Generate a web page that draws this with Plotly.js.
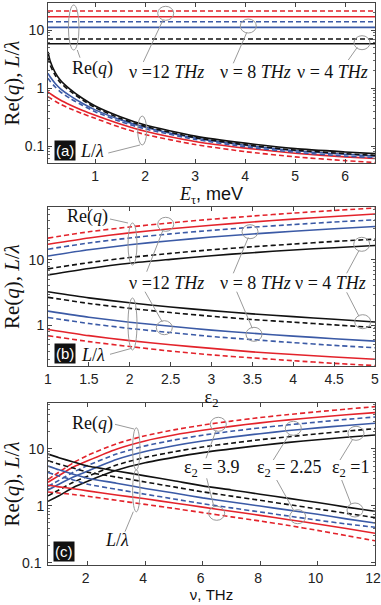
<!DOCTYPE html>
<html>
<head>
<meta charset="utf-8">
<script src="https://cdn.plot.ly/plotly-3.0.1.min.js"></script>
<style>
  body { margin: 0; background: #fff; }
  #chart { width: 381px; height: 605px; }
</style>
</head>
<body>
<div id="chart"></div>
<script>
// ---- panel (a): versus E_tau, meV (eps2 = 1) ----
var eTau = [0.055, 0.1, 0.2, 0.3, 0.5, 0.75, 1, 1.5, 2, 3, 4, 5, 6, 6.6];
var eTauEnds = [0.055, 6.6];
// Re(q) is flat in E_tau: [solid, dashed]
var reqA_nu4 = [5.8, 7.0];
var reqA_nu8 = [11.1, 13.9];
var reqA_nu12 = [16.9, 21.3];
var lamA_nu4_solid = [4.2, 2.9, 1.85, 1.38, 0.95, 0.66, 0.49, 0.32, 0.23, 0.148, 0.112, 0.09, 0.079, 0.074];
var lamA_nu4_dash = [3.3, 2.45, 1.65, 1.25, 0.88, 0.62, 0.46, 0.3, 0.218, 0.14, 0.105, 0.085, 0.074, 0.069];
var lamA_nu8_solid = [1.79, 1.55, 1.2, 0.98, 0.73, 0.54, 0.42, 0.285, 0.21, 0.137, 0.103, 0.083, 0.072, 0.067];
var lamA_nu8_dash = [1.47, 1.3, 1.04, 0.86, 0.66, 0.5, 0.39, 0.265, 0.197, 0.13, 0.097, 0.078, 0.067, 0.063];
var lamA_nu12_solid = [0.86, 0.8, 0.7, 0.62, 0.51, 0.41, 0.34, 0.24, 0.18, 0.12, 0.092, 0.075, 0.065, 0.061];
var lamA_nu12_dash = [0.71, 0.67, 0.59, 0.53, 0.44, 0.36, 0.3, 0.21, 0.158, 0.106, 0.08, 0.065, 0.056, 0.052];

// ---- panel (b): versus eps2 ----
var eps2 = [1, 1.5, 2, 2.5, 3, 3.5, 4, 4.5, 5];
var reqB_nu4_solid = [5.9, 7.4, 8.9, 10.2, 11.6, 12.9, 14.2, 15.4, 16.6];
var reqB_nu4_dash = [7.3, 9.1, 10.9, 12.6, 14.3, 15.9, 17.5, 19.2, 20.8];
var reqB_nu8_solid = [11.5, 14.3, 17.1, 19.7, 22.4, 25.0, 27.5, 30.1, 32.6];
var reqB_nu8_dash = [14.6, 18.2, 21.7, 25.1, 28.4, 31.7, 34.9, 38.1, 41.2];
var reqB_nu12_solid = [17.4, 21.7, 26.0, 30.0, 34.0, 38.1, 42.2, 46.4, 50.5];
var reqB_nu12_dash = [21.6, 27.0, 32.0, 37.0, 42.0, 47.0, 52.2, 57.3, 62.4];
var lamB_nu4_solid = [3.25, 2.62, 2.2, 1.9, 1.67, 1.49, 1.35, 1.23, 1.12];
var lamB_nu4_dash = [2.67, 2.15, 1.81, 1.56, 1.37, 1.22, 1.11, 1.01, 0.92];
var lamB_nu8_solid = [1.64, 1.32, 1.11, 0.96, 0.84, 0.75, 0.68, 0.62, 0.57];
var lamB_nu8_dash = [1.31, 1.06, 0.89, 0.77, 0.67, 0.6, 0.54, 0.49, 0.45];
var lamB_nu12_solid = [0.86, 0.69, 0.58, 0.5, 0.44, 0.39, 0.355, 0.325, 0.3];
var lamB_nu12_dash = [0.69, 0.56, 0.47, 0.4, 0.35, 0.315, 0.285, 0.26, 0.24];

// ---- panel (c): versus nu, THz ----
var nu = [0.62, 1, 1.5, 2, 3, 4, 5, 6, 7, 8, 9, 10, 11, 12];
var reqC_e1_solid = [1.2, 1.5, 2.1, 2.7, 4.2, 5.7, 7.1, 8.6, 10.0, 11.5, 13.0, 14.5, 16.0, 17.6];
var reqC_e1_dash = [1.5, 1.9, 2.6, 3.3, 5.2, 7.1, 8.9, 10.8, 12.6, 14.5, 16.4, 18.4, 20.5, 22.7];
var reqC_e225_solid = [1.9, 2.4, 3.2, 4.1, 6.5, 9.0, 11.4, 13.8, 16.1, 18.5, 21.0, 23.4, 25.8, 28.2];
var reqC_e225_dash = [2.2, 2.8, 3.9, 5.1, 8.1, 11.3, 14.3, 17.4, 20.4, 23.4, 26.5, 29.6, 33.0, 36.4];
var reqC_e39_solid = [2.6, 3.4, 4.8, 6.2, 9.9, 13.8, 17.5, 21.2, 24.9, 28.7, 32.4, 36.0, 39.7, 43.4];
var reqC_e39_dash = [2.9, 3.9, 5.7, 7.7, 12.3, 17.0, 21.6, 26.2, 30.8, 35.5, 40.2, 45.0, 50.0, 55.3];
var lamC_e1_solid = [8.1, 7.0, 5.9, 5.0, 4.1, 3.36, 2.75, 2.24, 1.9, 1.6, 1.35, 1.14, 0.95, 0.8];
var lamC_e1_dash = [6.2, 5.4, 4.6, 3.9, 3.2, 2.62, 2.15, 1.76, 1.48, 1.25, 1.05, 0.88, 0.74, 0.62];
var lamC_e225_solid = [5.0, 4.3, 3.6, 3.05, 2.5, 2.02, 1.68, 1.38, 1.17, 0.99, 0.84, 0.71, 0.59, 0.5];
var lamC_e225_dash = [3.85, 3.35, 2.85, 2.4, 1.95, 1.6, 1.32, 1.09, 0.92, 0.78, 0.66, 0.56, 0.48, 0.42];
var lamC_e39_solid = [2.3, 2.15, 2.0, 1.83, 1.55, 1.33, 1.12, 0.95, 0.8, 0.68, 0.57, 0.48, 0.4, 0.33];
var lamC_e39_dash = [1.75, 1.68, 1.58, 1.47, 1.25, 1.06, 0.9, 0.76, 0.64, 0.54, 0.45, 0.37, 0.3, 0.243];

var yTickVals = [0.1, 1, 10];
var yTickText = ["0.1", "1", "10"];
var yTickTextC = ["", "1", "10"];   // "0.1" of panel (c) is drawn as an annotation
var minorA = [0.06, 0.07, 0.08, 0.09, 0.2, 0.3, 0.4, 0.5, 0.6, 0.7, 0.8, 0.9, 2, 3, 4, 5, 6, 7, 8, 9, 20];
var minorB = [0.3, 0.4, 0.5, 0.6, 0.7, 0.8, 0.9, 2, 3, 4, 5, 6, 7, 8, 9, 20, 30, 40, 50, 60];
var minorC = [0.2, 0.3, 0.4, 0.5, 0.6, 0.7, 0.8, 0.9, 2, 3, 4, 5, 6, 7, 8, 9, 20, 30, 40, 50, 60];

var RED = "#e3232b", BLUE = "#3b5aa6", BLACK = "#111111";
var SERIF = "Liberation Serif", SANS = "Liberation Sans";

// pixel -> paper (plot area is x 48..375, y 3..565)
function px(x) { return (x - 48) / 327; }
function py(y) { return (565 - y) / 562; }

function addLine(data, xs, ys, n, color, dashed) {
    data.push({
        x: xs, y: ys,
        xaxis: n === 1 ? "x" : "x" + n,
        yaxis: n === 1 ? "y" : "y" + n,
        mode: "lines",
        line: { color: color, width: 1.6, dash: dashed ? "5px,3px" : "solid", shape: "spline", smoothing: 0.6 },
        hoverinfo: "skip",
        showlegend: false
    });
}

function ring(cx, cy, rx, ry) {
    return { type: "circle", xref: "paper", yref: "paper",
             x0: px(cx - rx), x1: px(cx + rx), y0: py(cy + ry), y1: py(cy - ry),
             line: { color: "#9a9a9a", width: 1 } };
}
function seg(x1, y1, x2, y2) {
    return { type: "line", xref: "paper", yref: "paper",
             x0: px(x1), y0: py(y1), x1: px(x2), y1: py(y2),
             line: { color: "#9a9a9a", width: 1 } };
}
function label(text, x, y, anchor) {
    return { text: text, xref: "paper", yref: "paper", x: px(x), y: py(y),
             xanchor: anchor || "left", yanchor: "middle", showarrow: false,
             font: { family: SERIF, size: 18, color: "#111" } };
}
function tag(text, x, y) {
    return { text: text, xref: "paper", yref: "paper", x: px(x), y: py(y),
             xanchor: "center", yanchor: "middle", showarrow: false,
             bgcolor: "#111", borderpad: 1,
             font: { family: SANS, size: 15, color: "#fff" } };
}

function xAxis(anchor, range, extra) {
    var ax = {
        anchor: anchor, domain: [0, 1], range: range,
        ticks: "inside", ticklen: 4, tickcolor: "#444", mirror: "ticks",
        showline: true, linecolor: "#444", linewidth: 1,
        showgrid: false, zeroline: false, ticklabeloverflow: "allow",
        tickfont: { family: SANS, size: 14, color: "#222" }
    };
    for (var k in extra) ax[k] = extra[k];
    return ax;
}
function yAxis(anchor, domain, range, minorVals, tickText) {
    return {
        anchor: anchor, domain: domain, type: "log", range: range,
        tickmode: "array", tickvals: yTickVals, ticktext: tickText,
        ticks: "inside", ticklen: 4, tickcolor: "#444", mirror: "ticks",
        minor: { tickvals: minorVals, ticks: "inside", ticklen: 2, tickcolor: "#666" },
        showline: true, linecolor: "#444", linewidth: 1,
        showgrid: false, zeroline: false, ticklabeloverflow: "allow",
        tickfont: { family: SANS, size: 14, color: "#222" },
        title: { text: "Re(<i>q</i>), <i>L</i>/<i>λ</i>", font: { family: SERIF, size: 21, color: "#111" }, standoff: 4 }
    };
}

function draw_chart() {
    var data = [];

    // (a)
    addLine(data, eTauEnds, [reqA_nu12[1], reqA_nu12[1]], 1, RED, true);
    addLine(data, eTauEnds, [reqA_nu12[0], reqA_nu12[0]], 1, RED, false);
    addLine(data, eTauEnds, [reqA_nu8[1], reqA_nu8[1]], 1, BLUE, true);
    addLine(data, eTauEnds, [reqA_nu8[0], reqA_nu8[0]], 1, BLUE, false);
    addLine(data, eTauEnds, [reqA_nu4[1], reqA_nu4[1]], 1, BLACK, true);
    addLine(data, eTauEnds, [reqA_nu4[0], reqA_nu4[0]], 1, BLACK, false);
    addLine(data, eTau, lamA_nu12_dash, 1, RED, true);
    addLine(data, eTau, lamA_nu12_solid, 1, RED, false);
    addLine(data, eTau, lamA_nu8_dash, 1, BLUE, true);
    addLine(data, eTau, lamA_nu8_solid, 1, BLUE, false);
    addLine(data, eTau, lamA_nu4_dash, 1, BLACK, true);
    addLine(data, eTau, lamA_nu4_solid, 1, BLACK, false);

    // (b)
    addLine(data, eps2, reqB_nu12_dash, 2, RED, true);
    addLine(data, eps2, reqB_nu12_solid, 2, RED, false);
    addLine(data, eps2, reqB_nu8_dash, 2, BLUE, true);
    addLine(data, eps2, reqB_nu8_solid, 2, BLUE, false);
    addLine(data, eps2, reqB_nu4_dash, 2, BLACK, true);
    addLine(data, eps2, reqB_nu4_solid, 2, BLACK, false);
    addLine(data, eps2, lamB_nu12_dash, 2, RED, true);
    addLine(data, eps2, lamB_nu12_solid, 2, RED, false);
    addLine(data, eps2, lamB_nu8_dash, 2, BLUE, true);
    addLine(data, eps2, lamB_nu8_solid, 2, BLUE, false);
    addLine(data, eps2, lamB_nu4_dash, 2, BLACK, true);
    addLine(data, eps2, lamB_nu4_solid, 2, BLACK, false);

    // (c)
    addLine(data, nu, reqC_e39_dash, 3, RED, true);
    addLine(data, nu, reqC_e39_solid, 3, RED, false);
    addLine(data, nu, reqC_e225_dash, 3, BLUE, true);
    addLine(data, nu, reqC_e225_solid, 3, BLUE, false);
    addLine(data, nu, reqC_e1_dash, 3, BLACK, true);
    addLine(data, nu, reqC_e1_solid, 3, BLACK, false);
    addLine(data, nu, lamC_e39_dash, 3, RED, true);
    addLine(data, nu, lamC_e39_solid, 3, RED, false);
    addLine(data, nu, lamC_e225_dash, 3, BLUE, true);
    addLine(data, nu, lamC_e225_solid, 3, BLUE, false);
    addLine(data, nu, lamC_e1_dash, 3, BLACK, true);
    addLine(data, nu, lamC_e1_solid, 3, BLACK, false);

    var shapes = [
        // (a)
        ring(73.7, 27.5, 5.3, 22.5), seg(77.3, 50, 80, 57.7),
        ring(165.7, 13.3, 8, 7), seg(163, 20, 143.3, 62),
        ring(248.3, 26, 8, 7), seg(246.7, 32.7, 233.3, 63.3),
        ring(362, 42.7, 8, 7), seg(357.3, 47.3, 348.3, 60),
        ring(142.2, 130.5, 4.5, 14.5), seg(140, 145, 108.3, 153),
        // (b)
        ring(132.5, 244, 4.5, 21), seg(110, 219, 128, 223),
        ring(132.5, 324, 4.5, 26), seg(131.7, 348.3, 110, 354.3),
        ring(165.7, 224.3, 8, 7), seg(163, 230, 146.7, 271.7),
        ring(164.3, 327.7, 8, 7), seg(145, 291.7, 162.3, 322),
        ring(250, 231.7, 8, 7), seg(248.3, 237.5, 233.3, 273.3),
        ring(254, 334.3, 8, 7), seg(236.7, 291.7, 252.3, 328.3),
        ring(361.7, 244.3, 8, 7), seg(359, 250.5, 346.7, 273.3),
        ring(362.7, 321.7, 8, 7), seg(346.7, 292.3, 359, 316.3),
        // (c)
        ring(136.3, 448.8, 3.7, 21), seg(115, 424.3, 134, 429),
        ring(136.3, 490.8, 3.7, 21), seg(133.3, 511.7, 125, 531.7),
        ring(218.3, 424.3, 8, 7), seg(216, 430.5, 206, 458.3),
        ring(216.7, 513.3, 8, 7), seg(206.7, 478.3, 214, 507),
        ring(293.3, 428.3, 8, 7), seg(289.3, 434.3, 273.3, 460),
        ring(297.7, 516.7, 8, 7), seg(276.7, 480, 294, 511),
        ring(356, 433.3, 8, 7), seg(352.7, 439.3, 340, 460),
        ring(355, 510, 8, 7), seg(341.7, 480, 351, 504)
    ];

    var annotations = [
        // (a)
        label("Re(<i>q</i>)", 70, 68),
        label("ν =12 <i>THz</i>", 127, 71.7),
        label("ν = 8 <i>THz</i>", 218, 71.7),
        label("ν = 4 <i>THz</i>", 295, 71.7),
        tag("(a)", 65, 150),
        label("<i>L</i>/<i>λ</i>", 78, 151),
        // (b)
        label("Re(<i>q</i>)", 65, 216.7),
        label("ν =12 <i>THz</i>", 127, 283.3),
        label("ν = 8 <i>THz</i>", 218, 283.3),
        label("ν = 4 <i>THz</i>", 293, 283.3),
        tag("(b)", 64.5, 353),
        label("<i>L</i>/<i>λ</i>", 79, 355),
        // (c)
        label("Re(<i>q</i>)", 70, 423.3),
        label("ε<sub>2</sub> = 3.9", 182, 468.3),
        label("ε<sub>2</sub> = 2.25", 255, 468.3),
        label("ε<sub>2</sub> =1", 330, 468.3),
        tag("(c)", 63.5, 551.7),
        label("<i>L</i>/<i>λ</i>", 103, 540),
        // bottom tick label of (c): plotly drops it at the domain edge
        { text: yTickText[0], xref: "paper", yref: "y3", x: px(44), y: Math.log10(yTickVals[0]),
          xanchor: "right", yanchor: "middle", showarrow: false,
          font: { family: SANS, size: 14, color: "#222" } }
    ];

    var layout = {
        width: 381, height: 605,
        margin: { l: 48, r: 6, t: 3, b: 40 },
        paper_bgcolor: "#fff", plot_bgcolor: "#fff",
        showlegend: false,
        xaxis: xAxis("y", [0.055, 6.6], {
            tickvals: [1, 2, 3, 4, 5, 6],
            title: { text: "<i>E</i><sub>τ</sub><span style=\"font-family:'Liberation Sans'\">, meV</span>",
                     font: { family: SERIF, size: 18, color: "#111" }, standoff: 0 }
        }),
        yaxis: yAxis("x", [0.7153, 1], [-1.293, 1.466], minorA, yTickText),
        xaxis2: xAxis("y2", [1, 5], {
            tick0: 1, dtick: 0.5,
            title: { text: "ε<sub>2</sub>", font: { family: SERIF, size: 18, color: "#111" }, standoff: 0 }
        }),
        yaxis2: yAxis("x2", [0.3541, 0.637], [-0.626, 1.811], minorB, yTickText),
        xaxis3: xAxis("y3", [0.62, 12], {
            tickvals: [2, 4, 6, 8, 10, 12], ticklabelshift: -2,
            title: { text: "ν, THz", font: { family: SANS, size: 15, color: "#111" }, standoff: 2 }
        }),
        yaxis3: yAxis("x3", [0, 0.2883], [-1.04, 1.807], minorC, yTickTextC),
        shapes: shapes,
        annotations: annotations
    };

    Plotly.newPlot("chart", data, layout, { staticPlot: true, displayModeBar: false });
}

draw_chart();
</script>
</body>
</html>
